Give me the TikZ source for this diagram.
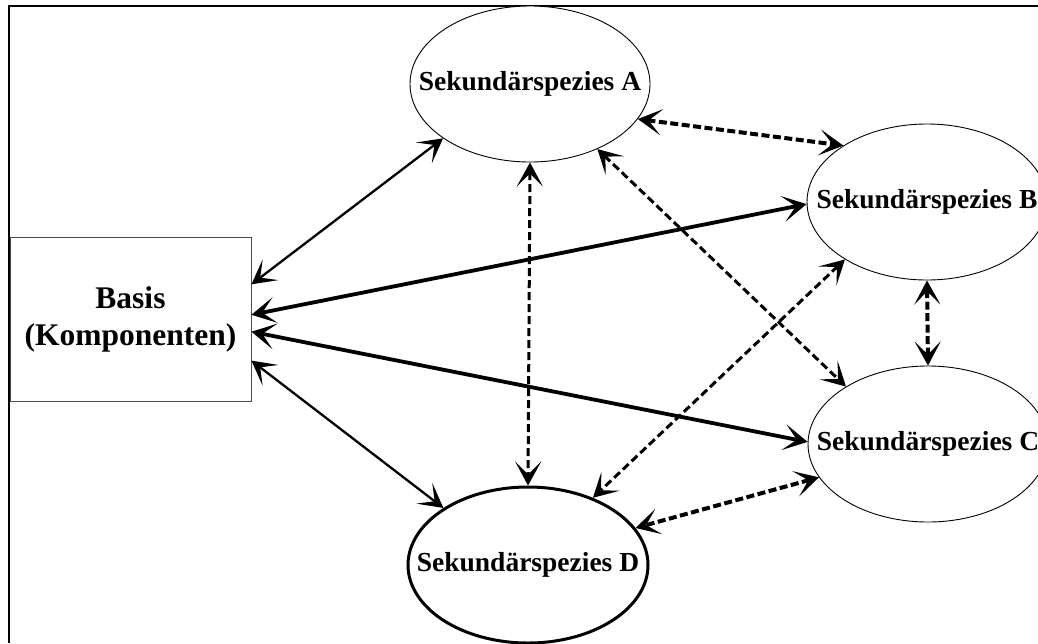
\documentclass[tikz,border=0pt]{standalone}
\usepackage{fontspec}
\setmainfont{Liberation Serif}
\usepackage{tikz}
\usetikzlibrary{arrows.meta,shapes.geometric}
\tikzset{
  thinlink/.style={{Stealth[length=24pt, width=26pt, inset=13pt]}-{Stealth[length=24pt, width=26pt, inset=13pt]}, line width=2.3pt, draw=black},
  thicklink/.style={{Stealth[length=24pt, width=26pt, inset=13pt]}-{Stealth[length=24pt, width=26pt, inset=13pt]}, line width=3.8pt, draw=black},
  dashthin/.style={{Stealth[length=24pt, width=26pt, inset=13pt]}-{Stealth[length=24pt, width=26pt, inset=13pt]}, line width=3pt, dash pattern=on 8pt off 4pt, draw=black},
  dashthick/.style={{Stealth[length=24pt, width=26pt, inset=13pt]}-{Stealth[length=24pt, width=26pt, inset=13pt]}, line width=4pt, dash pattern=on 8pt off 3.5pt, draw=black},
  species/.style={ellipse, draw=black, line width=0.9pt, fill=white, inner sep=0pt,
    minimum width=240pt, minimum height=156pt, font=\bfseries\fontsize{27.5}{33}\selectfont},
  basisbox/.style={rectangle, draw=black!70, line width=0.9pt, fill=white, align=center,
    minimum width=241pt, minimum height=164pt, font=\bfseries\fontsize{31.5}{37}\selectfont}
}

\begin{document}
\begin{tikzpicture}[x=1pt, y=-1pt]
        \useasboundingbox (0,0) rectangle (1038,643);
        \clip (0,0) rectangle (1038,643);
        \draw[line width=2pt] (9,643) -- (9,6) -- (1038,6);

        \node[basisbox] (basis) at (130.5,319) {Basis\\(Komponenten)};
        \node[species] (spA) at (530,84) {\makebox[0pt]{Sekundärspezies A}};
        \node[species] (spB) at (927,202) {\makebox[0pt]{Sekundärspezies B}};
        \node[species] (spC) at (928,444) {\makebox[0pt]{Sekundärspezies C}};
        \node[species, line width=3pt] (spD) at (528,565) {\makebox[0pt]{Sekundärspezies D}};

        \draw[thinlink] (basis.16) -- (spA.212);
        \draw[thicklink] (basis.2) -- (spB.181);
        \draw[thicklink] (basis.-6) -- (spC.179);
        \draw[thinlink] (basis.-19) -- (spD.146);
        \draw[dashthin] (spA.south) -- (spD.north);
        \draw[dashthick] (spA.342) -- (spB.146);
        \draw[dashthin] (spA.316) -- (spC.145);
        \draw[dashthin] (spB.215) -- (spD.46);
        \draw[dashthick] (spB.south) -- (spC.north);
        \draw[dashthick] (spC.197) -- (spD.19);
\end{tikzpicture}
\end{document}
